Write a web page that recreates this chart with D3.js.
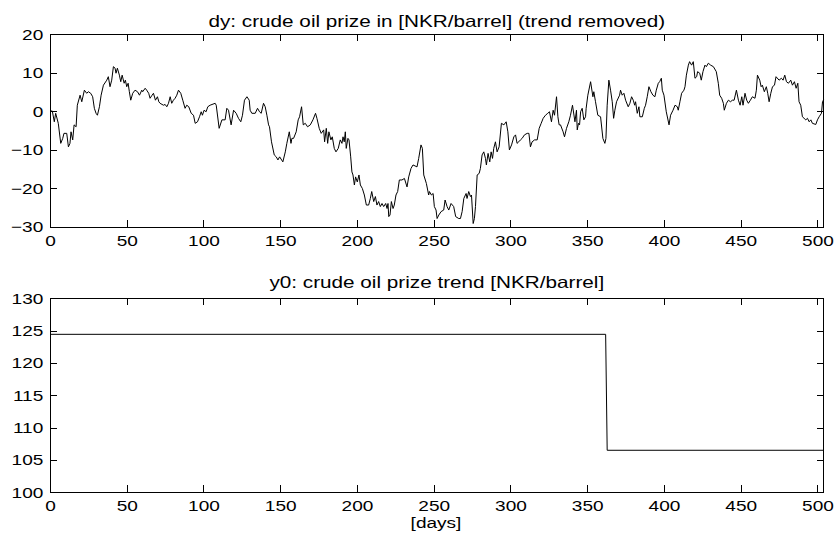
<!DOCTYPE html>
<html>
<head>
<meta charset="utf-8">
<script src="https://cdn.jsdelivr.net/npm/d3@7"></script>
<style>
  html, body { margin: 0; padding: 0; background: #fff; }
  svg { display: block; }
  text { font-family: "Liberation Sans", Arial, Helvetica, sans-serif; fill: #000; }
</style>
</head>
<body>
<svg id="chart" width="835" height="536"></svg>
<script>
// ---- data ----
const topTitle = "dy: crude oil prize in [NKR/barrel] (trend removed)";
const bottomTitle = "y0: crude oil prize trend [NKR/barrel]";
const xLabel = "[days]";
const xTicks = [0, 50, 100, 150, 200, 250, 300, 350, 400, 450, 500];
const yTicksTop = [-30, -20, -10, 0, 10, 20];
const yTicksBottom = [100, 105, 110, 115, 120, 125, 130];

const dyDays = [
  0,1.5,2.8,3.7,5.4,7.0,8.3,9.1,10.9,12.0,13.0,13.7,14.8,15.7,17.0,17.8,19.6,20.7,22.4,23.9,
  25.0,26.5,27.8,28.9,30.0,30.9,32.2,33.3,34.8,37.0,38.0,39.1,40.2,41.3,42.4,43.0,43.9,45.2,46.1,47.0,
  48.3,49.1,50.0,50.9,51.7,52.6,53.9,55.4,57.0,58.3,59.8,60.4,62.0,63.0,64.3,65.2,66.5,67.4,68.7,70.0,
  70.9,71.7,73.9,75.0,76.1,77.2,78.3,79.3,80.4,81.5,82.6,83.7,85.2,86.5,88.0,89.1,90.4,92.0,93.5,94.6,
  96.1,97.4,98.5,99.3,100.4,101.7,102.8,104.3,107.6,108.3,110.2,112.0,114.1,115.2,116.3,118.0,119.6,121.3,122.8,124.3,
  125.4,126.7,128.3,129.8,130.4,131.5,133.7,135.2,136.5,137.6,139.1,140.2,141.3,142.4,143.0,144.3,146.1,147.4,148.5,149.6,
  151.7,153.3,154.3,155.9,157.0,157.6,158.7,160.4,161.7,162.6,163.9,165.0,166.3,167.8,169.6,171.3,173.0,173.9,175.4,176.7,
  178.3,178.9,180.0,180.9,181.7,183.0,183.9,185.2,186.3,187.8,189.1,190.2,190.9,191.7,192.4,193.0,194.1,194.8,195.9,196.7,
  197.4,198.3,199.1,200.2,201.3,202.2,203.5,204.8,206.1,207.6,208.7,209.6,210.9,212.0,213.0,214.1,215.2,216.3,217.4,218.7,
  219.6,220.2,220.7,221.5,222.4,223.5,224.3,225.4,226.5,227.6,229.3,230.9,232.6,233.7,235.2,236.5,239.1,240.2,241.7,242.6,
  243.5,245.2,246.7,247.2,248.5,249.6,250.4,251.5,252.2,253.3,254.8,256.5,257.4,258.7,259.8,261.3,263.0,264.3,266.3,267.4,
  268.5,269.6,271.1,271.7,272.8,273.9,274.6,275.7,276.5,277.2,278.3,279.6,280.4,281.5,282.6,283.7,284.3,285.4,286.5,287.4,
  288.3,289.1,290.2,291.3,292.6,294.1,295.7,297.2,298.3,299.3,300.7,302.2,303.3,304.3,305.4,306.5,307.6,309.1,310.9,312.0,
  313.0,314.1,315.7,317.4,318.7,320.0,321.3,322.8,324.3,325.4,326.7,327.8,328.7,330.0,330.9,331.7,332.6,334.3,335.2,336.5,
  338.0,339.1,340.4,342.0,343.0,343.5,344.3,345.0,345.7,346.7,347.8,348.9,349.3,350.4,352.2,353.7,354.3,355.4,356.9,358.7,
  360.2,361.5,362.2,363.0,364.1,365.2,366.3,367.2,368.0,369.1,371.1,371.7,372.8,373.9,375.0,376.7,377.8,378.9,380.0,380.9,
  381.5,382.6,383.7,384.3,385.9,387.2,388.0,389.1,390.2,391.5,392.8,394.1,395.0,396.3,397.2,398.3,398.9,400.0,401.5,403.3,
  404.3,405.9,407.2,408.7,409.3,410.4,411.5,413.0,413.7,414.6,415.9,416.7,418.0,419.1,420.2,421.3,421.9,423.3,424.3,425.4,
  426.7,427.6,428.9,430.4,432.2,434.1,435.4,436.3,437.6,438.7,439.3,440.7,442.0,443.3,444.6,445.7,447.2,448.5,449.6,450.7,
  451.5,452.8,453.9,455.0,456.3,457.6,459.3,460.2,460.9,462.4,463.3,464.1,465.4,466.7,467.6,468.5,469.6,470.7,472.0,473.0,
  475.0,476.5,477.6,478.7,479.8,481.1,482.6,483.7,485.0,486.1,487.2,488.0,489.1,490.2,491.3,492.4,493.5,494.6,495.7,496.7,
  498.9,500.0,501.1,502.6,503.3,504.0
];
const dyValues = [
  0.1,0.1,-2.7,-0.5,-3.1,-8.3,-7.0,-5.7,-5.7,-9.2,-8.3,-5.3,-7.4,-3.5,-4.0,1.6,4.2,2.5,5.5,4.7,
  5.1,4.7,3.8,0.8,-0.5,-1.0,1.2,4.2,6.8,8.1,9.0,6.4,8.1,11.6,11.2,9.9,11.2,9.4,7.7,9.4,
  7.3,8.1,6.4,7.3,5.1,2.9,4.7,5.5,5.1,4.2,5.5,5.1,6.0,5.5,4.7,3.4,4.2,4.7,2.9,3.8,
  2.5,2.1,1.6,1.8,1.2,2.1,3.8,2.1,2.9,3.4,4.2,5.5,4.7,2.9,0.8,1.6,1.2,-0.5,-1.0,-3.1,
  -2.7,-1.4,-0.1,-1.0,0.3,-0.1,1.2,1.6,2.1,1.6,-4.4,-2.2,-2.2,0.8,0.3,-3.5,0.3,-0.5,-1.8,-2.7,
  -1.0,2.9,3.8,2.9,0.3,-0.5,-0.5,0.8,-0.1,-0.5,2.1,1.2,-1.0,-3.5,-4.0,-7.9,-11.3,-11.8,-12.6,-11.8,
  -13.1,-10.5,-8.3,-5.3,-8.3,-7.0,-7.0,-5.3,-2.2,-1.4,1.2,-3.5,-3.1,-4.0,-3.5,-2.2,-0.5,-1.8,-4.4,-5.7,
  -4.8,-7.9,-4.4,-8.3,-5.3,-7.4,-6.6,-9.6,-10.5,-9.6,-7.4,-8.3,-6.6,-7.9,-5.3,-9.6,-7.0,-7.4,-11.8,-15.7,
  -16.5,-19.1,-17.0,-18.3,-16.5,-19.1,-20.0,-21.7,-24.3,-24.3,-22.6,-20.8,-23.4,-22.1,-24.3,-23.4,-24.7,-23.9,-24.7,-23.9,
  -25.2,-23.9,-27.3,-26.9,-23.4,-25.2,-24.3,-21.7,-20.8,-17.8,-17.8,-17.4,-19.6,-17.0,-14.8,-13.9,-14.4,-12.2,-8.7,-9.6,
  -16.5,-18.7,-21.7,-20.8,-21.7,-21.3,-24.7,-25.6,-27.8,-26.9,-26.0,-25.6,-23.0,-24.7,-25.6,-23.9,-24.7,-27.3,-27.8,-27.8,
  -26.0,-22.6,-21.3,-22.6,-20.8,-22.1,-21.7,-29.1,-27.8,-24.7,-16.5,-16.1,-14.8,-11.3,-10.5,-12.2,-13.9,-10.9,-13.1,-10.5,
  -12.2,-9.6,-7.9,-10.5,-9.2,-3.1,-3.5,-2.7,-5.3,-10.0,-8.7,-6.6,-6.1,-8.3,-7.9,-7.4,-7.0,-6.1,-5.7,-5.7,
  -9.2,-7.9,-7.4,-7.4,-4.4,-3.1,-1.8,-1.0,-0.5,-0.1,-2.7,0.3,-1.0,3.8,-1.4,-3.5,-3.5,-5.3,-6.6,-4.4,
  -2.7,-1.0,1.6,-2.7,0.3,-4.8,-3.1,-3.5,-0.1,0.8,-2.2,-1.4,0.8,4.2,7.7,3.8,5.1,2.5,-1.0,-1.4,
  -7.0,-8.3,-7.0,1.6,8.1,5.5,2.5,-1.8,0.3,2.5,4.2,5.5,4.2,4.7,2.9,1.2,2.1,3.8,2.9,1.6,
  2.5,-0.5,1.2,-1.4,-1.4,0.8,1.6,3.8,6.4,5.1,4.2,3.8,5.5,7.3,7.7,8.6,5.5,4.2,-0.1,-3.5,
  -1.0,0.3,1.6,1.2,0.3,2.5,4.7,5.5,6.4,9.4,12.0,12.9,12.0,12.9,8.6,9.0,10.3,9.9,8.1,10.3,
  12.0,11.6,12.5,12.0,11.6,10.3,7.3,4.2,3.4,2.1,0.3,2.1,2.9,2.5,2.9,2.9,5.5,2.9,1.6,3.8,
  1.6,4.7,2.9,2.1,2.9,3.8,3.4,5.5,9.4,8.1,6.4,6.8,5.1,6.4,4.7,2.5,4.7,6.4,6.8,9.0,
  8.1,8.6,8.1,9.4,7.7,7.3,8.1,6.8,7.7,6.0,7.3,2.5,1.6,-1.4,-1.8,-2.2,-1.8,-2.7,-2.2,-3.1,
  -3.4,-2.2,-1.4,-0.5,2.5,3.0
];

const y0Days = [0, 362, 363, 504];
const y0Values = [124.43, 124.43, 106.5, 106.5];

// ---- layout ----
const svg = d3.select("#chart");
const left = 50, right = 823.6;
const panels = [
  { top: 34.3, bottom: 227, yDomain: [-30, 20], yTicks: yTicksTop, title: topTitle, titleY: 26.7,
    days: dyDays, values: dyValues },
  { top: 298.3, bottom: 492.3, yDomain: [100, 130], yTicks: yTicksBottom, title: bottomTitle, titleY: 287.5,
    days: y0Days, values: y0Values }
];
const SX = 1.27;       // horizontal stretch of lettering in the reference
const tickLen = 7;

function stretchText(sel, k, size) {
  sel.each(function () {
    const t = d3.select(this);
    const x = +t.attr("x") || 0;
    const y = +t.attr("y") || 0;
    t.attr("x", 0).attr("y", 0)
     .attr("transform", `translate(${x},${y}) scale(${k},1)`)
     .style("font-size", size + "px")
     .style("font-family", '"Liberation Sans", Arial, sans-serif');
  });
}

const xScale = d3.scaleLinear().domain([0, 504]).range([left, right]);

panels.forEach(p => {
  const y = d3.scaleLinear().domain(p.yDomain).range([p.bottom, p.top]);
  const g = svg.append("g");

  // data line
  const pts = p.days.map((d, i) => [d, p.values[i]]);
  g.append("path")
    .datum(pts)
    .attr("fill", "none")
    .attr("stroke", "#000")
    .attr("stroke-width", 1)
    .attr("stroke-linejoin", "round")
    .attr("d", d3.line().x(d => xScale(d[0])).y(d => y(d[1])));

  // axes (ticks pointing inward, box on)
  const axB = g.append("g").attr("transform", `translate(0,${p.bottom})`)
    .call(d3.axisBottom(xScale).tickValues(xTicks).tickSizeInner(-tickLen).tickSizeOuter(0).tickPadding(8.3).tickFormat(d3.format("d")));
  const axT = g.append("g").attr("transform", `translate(0,${p.top})`)
    .call(d3.axisTop(xScale).tickValues(xTicks).tickSizeInner(-tickLen).tickSizeOuter(0).tickFormat(""));
  const axL = g.append("g").attr("transform", `translate(${left},0)`)
    .call(d3.axisLeft(y).tickValues(p.yTicks).tickSizeInner(-tickLen).tickSizeOuter(0).tickPadding(6.7).tickFormat(d3.format("d")));
  const axR = g.append("g").attr("transform", `translate(${right},0)`)
    .call(d3.axisRight(y).tickValues(p.yTicks).tickSizeInner(-tickLen).tickSizeOuter(0).tickFormat(""));

  [axB, axT, axL, axR].forEach(a => {
    a.select(".domain").remove();
    a.selectAll("line").attr("stroke", "#000").attr("stroke-width", 1).attr("shape-rendering", "crispEdges");
    a.selectAll("text").attr("fill", "#000");
  });
  stretchText(axB.selectAll("text"), SX, 15);
  stretchText(axL.selectAll("text"), SX, 15);

  // box
  g.append("rect")
    .attr("x", left).attr("y", p.top)
    .attr("width", right - left).attr("height", p.bottom - p.top)
    .attr("fill", "none").attr("stroke", "#000").attr("stroke-width", 1)
    .attr("shape-rendering", "crispEdges");

  // title
  const t = g.append("text")
    .attr("x", (left + right) / 2).attr("y", p.titleY)
    .attr("text-anchor", "middle")
    .text(p.title);
  stretchText(t, SX, 16.3);
});

// x label
const xl = svg.append("text")
  .attr("x", 436).attr("y", 527.7)
  .attr("text-anchor", "middle")
  .text(xLabel);
stretchText(xl, SX, 15);
</script>
</body>
</html>
